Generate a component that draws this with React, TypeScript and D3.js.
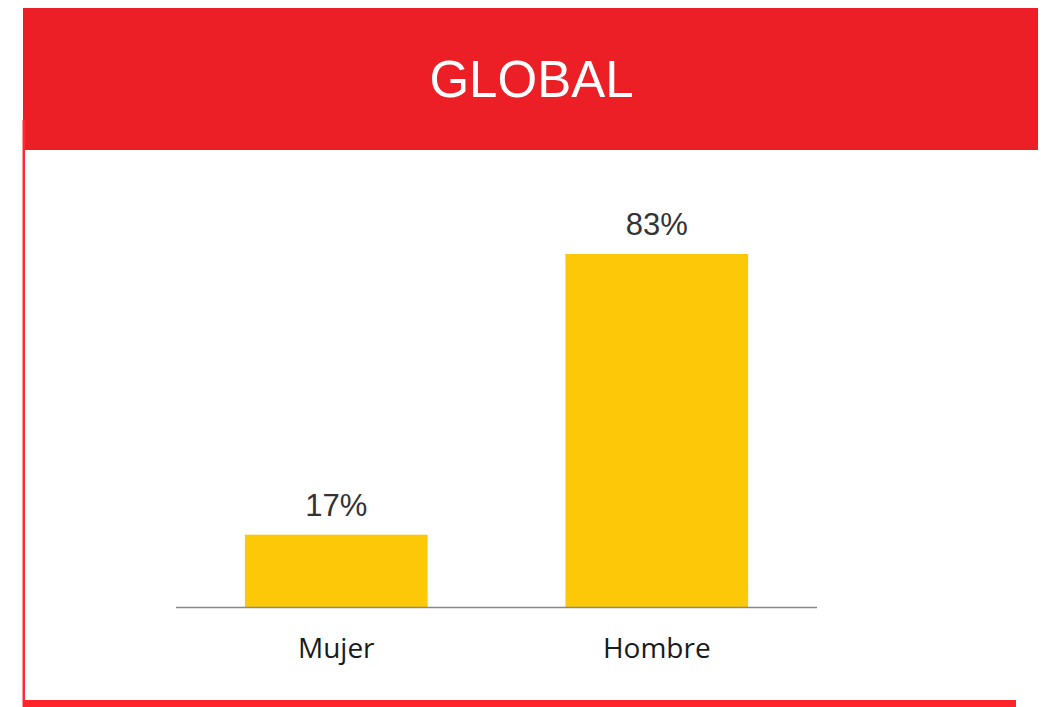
import React from "react";
import * as d3 from "d3";

const categories = ["Mujer", "Hombre"];
const values = [17, 83];
const valueLabels = ["17%", "83%"];
const title = "GLOBAL";

export default function App() {
  const W = 1041, H = 707;
  const baseline = 607;
  const x = d3.scaleBand<string>().domain(categories).range([176, 817]).paddingInner(0.43).paddingOuter(0.215);
  const y = d3.scaleLinear().domain([0, 83]).range([baseline, 254]);
  return (
    <svg width={W} height={H} style={{ position: "absolute", left: 0, top: 0 }}>
      <rect x={0} y={0} width={W} height={H} fill="#ffffff" />
      <rect x={23} y={8} width={1015} height={142} fill="#ED1F26" />
      <text x={531.5} y={97} textAnchor="middle" fill="#ffffff" fontFamily="Liberation Sans, Arial, sans-serif" fontSize={51}>{title}</text>
      <rect x={22.5} y={120} width={2.5} height={587} fill="#FF2A2F" />
      <rect x={23} y={700} width={993} height={7} fill="#FF242B" />
      {categories.map((c, i) => (
        <g key={c}>
          <rect x={x(c)} y={y(values[i])} width={x.bandwidth()} height={baseline - y(values[i])} fill="#FDC808" />
          <text x={(x(c) as number) + x.bandwidth() / 2} y={y(values[i]) - 19} textAnchor="middle" fill="#333333" fontFamily="Liberation Sans, Arial, sans-serif" fontSize={31}>{valueLabels[i]}</text>
          <text x={(x(c) as number) + x.bandwidth() / 2} y={658} textAnchor="middle" fill="#1a1a1a" fontFamily="Open Sans, sans-serif" fontSize={28}>{c}</text>
        </g>
      ))}
      <line x1={176} x2={817} y1={baseline + 0.5} y2={baseline + 0.5} stroke="#888888" strokeWidth={1.5} />
    </svg>
  );
}
